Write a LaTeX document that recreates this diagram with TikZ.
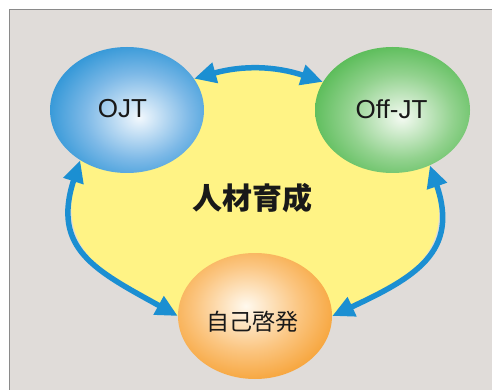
\documentclass[tikz,border=0pt]{standalone}
\usepackage{fontspec}
\setmainfont{Liberation Sans}
\newfontfamily\jp{Noto Sans CJK JP}
\usetikzlibrary{shapes.geometric,arrows.meta,backgrounds}
\definecolor{panelfill}{HTML}{E0DCD9}
\definecolor{panelline}{HTML}{8A8A8A}
\definecolor{hubyellow}{HTML}{FFF385}
\definecolor{arrblue}{HTML}{1B8FD2}
\definecolor{ojtc}{HTML}{F2F8FD}
\definecolor{ojtm}{HTML}{7DB9E7}
\definecolor{ojte}{HTML}{1A8CD2}
\definecolor{offc}{HTML}{F4FAF2}
\definecolor{offm}{HTML}{92D28E}
\definecolor{offe}{HTML}{45B444}
\definecolor{sdc}{HTML}{FFF9EE}
\definecolor{sdm}{HTML}{FBC580}
\definecolor{sde}{HTML}{F59A25}
\pgfdeclareradialshading{ojtsh}{\pgfpoint{4bp}{-3bp}}{color(0bp)=(ojtc); color(17bp)=(ojtm); color(33bp)=(ojte); color(100bp)=(ojte)}
\pgfdeclareradialshading{offsh}{\pgfpoint{3bp}{-3bp}}{color(0bp)=(offc); color(17bp)=(offm); color(33bp)=(offe); color(100bp)=(offe)}
\pgfdeclareradialshading{sdsh}{\pgfpoint{-3bp}{4bp}}{color(0bp)=(sdc); color(17bp)=(sdm); color(33bp)=(sde); color(100bp)=(sde)}
\tikzset{
  bubble/.style={ellipse, inner sep=0pt, minimum width=154pt, minimum height=126pt},
  arr/.style={draw=arrblue, line width=5.5pt, arrows={Triangle[length=22pt,width=20pt]-Triangle[length=22pt,width=20pt]}},
  lat/.style={font=\fontsize{26}{26}\selectfont, text=black!90},
}
\begin{document}
\begin{tikzpicture}[x=1pt,y=1pt]
\useasboundingbox (0,0) rectangle (492,-390);
\node[bubble, shade, shading=ojtsh] (ojt) at (127,-110) {};
\node[bubble, shade, shading=offsh, minimum width=155pt] (off) at (392.5,-110) {};
\node[bubble, shade, shading=sdsh] (sd) at (255,-316) {};
\begin{scope}[on background layer]
  \fill[panelfill] (9.5,-9.5) rectangle (500,-400);
  \draw[panelline, line width=1.5pt] (9.5,-400) -- (9.5,-9.5) -- (500,-9.5);
  \fill[hubyellow] (ojt.25) to[bend left=17] (off.158) -- (off.304)
     to[out=289, in=25, looseness=1.3] (sd.0) -- (sd.180)
     to[out=151, in=252, looseness=1.3] (ojt.227) -- cycle;
\end{scope}
\draw[arr] (ojt.25) to[bend left=17] (off.158);
\draw[arr] (ojt.227) to[out=252, in=151, looseness=1.3] (sd.180);
\draw[arr] (off.304) to[out=289, in=25, looseness=1.3] (sd.0);
\node[lat] (tojt) at (122.5,-109) {OJT};
\node[lat] (toff) at (391.5,-109) {Off-JT};
\node[font=\jp\bfseries\fontsize{30}{30}\selectfont, text=black!90] (thub) at (252,-198) {人材育成};
\node[font=\jp\fontsize{23}{23}\selectfont, text=black!90] (tsd) at (252,-322) {自己啓発};
\end{tikzpicture}
\end{document}
